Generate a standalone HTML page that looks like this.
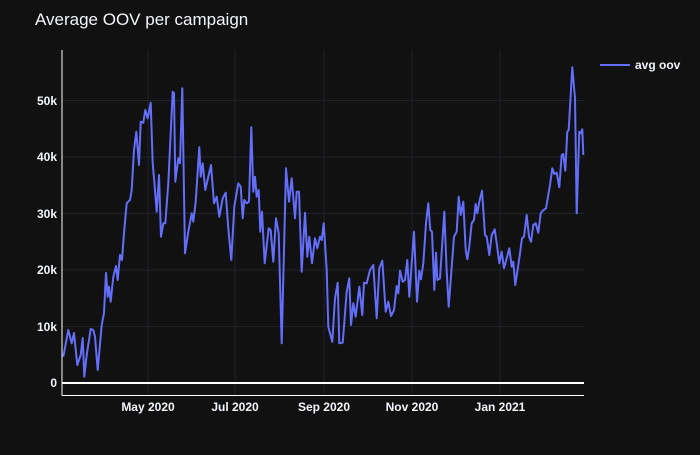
<!DOCTYPE html>
<html><head><meta charset="utf-8"><style>
html,body{margin:0;padding:0;background:#111111;}
svg text{font-family:"Liberation Sans",sans-serif;fill:#f2f5fa;}
</style></head><body>
<svg width="700" height="450" viewBox="0 0 700 450" xmlns="http://www.w3.org/2000/svg">
<rect width="700" height="450" fill="#111111"/>
<g stroke="#1f242c" stroke-width="1">
<line x1="148" y1="50" x2="148" y2="395"/>
<line x1="235" y1="50" x2="235" y2="395"/>
<line x1="324" y1="50" x2="324" y2="395"/>
<line x1="412" y1="50" x2="412" y2="395"/>
<line x1="500" y1="50" x2="500" y2="395"/>
<line x1="62" y1="326.5" x2="584" y2="326.5"/>
<line x1="62" y1="270" x2="584" y2="270"/>
<line x1="62" y1="213.5" x2="584" y2="213.5"/>
<line x1="62" y1="157" x2="584" y2="157"/>
<line x1="62" y1="100.5" x2="584" y2="100.5"/>
</g>
<line x1="62" y1="383" x2="584" y2="383" stroke="#ffffff" stroke-width="2"/>
<polyline fill="none" stroke="#636efa" stroke-width="2" stroke-linejoin="round" points="
63.3,356.7 68.3,330 71.7,343.3 74,333 77.3,365 80.7,355 82.7,338 84.3,376.7 86.7,355 90.7,329 93.3,330 95,336.7 97.7,370 101.7,325 104,313 106,273 107.7,296.7 109,286.7 110.7,301.7 113.3,276.7 116,266 117.7,280 120,255 122,260 124,233 126.7,203 130,200 131.7,190 134,150 136.3,131.7 139,165 140.7,121.7 143.3,122.7 145.3,110 147.7,118.3 150.7,102.7 152.7,163.3 154.3,181.7 156.7,211.7 159,175 161,236.7 163.3,223.3 165.3,223.3 168.3,183.3 172.7,91.7 174,93.3 175.3,181.7 178.3,158.3 180,163.3 182.3,88.3 185,253.3 188.3,231.7 191.7,213.3 193.3,221.7 195.7,201.7 199.3,147.3 200.7,176.7 202.7,163.3 205.3,190 208.3,176.7 211,165 214,203.3 216.7,196.7 219.3,216.7 222.7,198.3 225.7,192.7 228.3,228.3 231.3,260 234.3,206.7 238.3,183.3 240.7,186.7 242.7,218.3 244.3,200 246.7,203.3 249,201.7 251.3,127.3 253.3,191.7 255,176.7 256.7,196.7 258.7,190 260.3,231.7 262,211.7 264.7,263.3 268.7,228.3 270.7,230 273.3,261.7 276,218.3 278.7,233.3 281.7,343.3 286,168.3 289,201.7 291.7,178.3 295,218.3 296.7,191.7 299,191.7 301.7,271.7 305,212.7 307.3,256.7 309.3,236.7 312,263.3 315,238.3 317.3,248.3 320,236.7 321.7,240 323.7,223.3 326.7,270 328.3,326.7 332.3,341.7 335,298.3 337.7,282.7 339.3,343.3 342.7,342.7 346.7,291.7 349.3,278.3 351,325 353.3,303.3 355.7,316.7 359.3,286.7 362.3,315 364,282.7 366.7,283.3 370,270 373.3,265 376.7,318.3 379.3,268.3 382.3,260.7 385.7,311.7 388.3,301.7 391,316 394,310 396.7,286 398.3,293.3 400,270.7 402.7,281.7 405,280 407.3,260 409.3,296.7 414,231.7 417,301.7 419.3,270.7 421,279.3 423.3,263.3 426,223.3 428.3,203.3 430.3,230 432,231.7 434.3,290 436,252.7 437.3,280 440,278.3 444.3,211.7 446.7,271.7 448.7,306.7 454,236.7 456.7,231.7 458.7,196.7 460.7,215 463.3,201.7 465.7,250 467.3,259.3 469.3,246.7 471.7,223.3 474,220 475.7,204 477.3,213.3 479.3,201.7 482,190.7 485,235 486.7,236.7 489.3,255 491.7,235 494.7,229.3 496.7,243.3 499.3,263.3 501.7,251.7 504,268.3 506.7,258.3 509.3,248.3 511.7,266.7 513.3,261.7 515.3,285 519.3,258.3 522,238.3 524,236.7 526.7,215 529,236.7 531,241.7 533.3,225 535.7,223.3 538.3,232.7 540.7,213.3 542.7,210.7 546,208.3 550,185 552.3,168.3 554.3,174 556.7,172.7 559.3,187.3 561.7,155 563.3,154 565.3,170.7 567.3,131.7 568.7,130 572.3,67.3 575,98.3 576.7,213.3 579.3,131.7 581,133.3 582.3,129.3 583.3,155"/>
<line x1="62" y1="50" x2="62" y2="395.5" stroke="#ffffff" stroke-width="1"/>
<line x1="62" y1="395.5" x2="584" y2="395.5" stroke="#ffffff" stroke-width="1"/>
<g font-size="12" font-weight="bold" text-anchor="end">
<text x="57" y="387">0</text>
<text x="57" y="331">10k</text>
<text x="57" y="274">20k</text>
<text x="57" y="218">30k</text>
<text x="57" y="161">40k</text>
<text x="57" y="105">50k</text>
</g>
<g font-size="12" font-weight="bold" text-anchor="middle">
<text x="148" y="411">May 2020</text>
<text x="235" y="411">Jul 2020</text>
<text x="324" y="411">Sep 2020</text>
<text x="412" y="411">Nov 2020</text>
<text x="500" y="411">Jan 2021</text>
</g>
<text x="35" y="25" font-size="17">Average OOV per campaign</text>
<line x1="600" y1="65" x2="630" y2="65" stroke="#636efa" stroke-width="2"/>
<text x="635" y="69" font-size="12" font-weight="bold">avg oov</text>
</svg>
</body></html>
